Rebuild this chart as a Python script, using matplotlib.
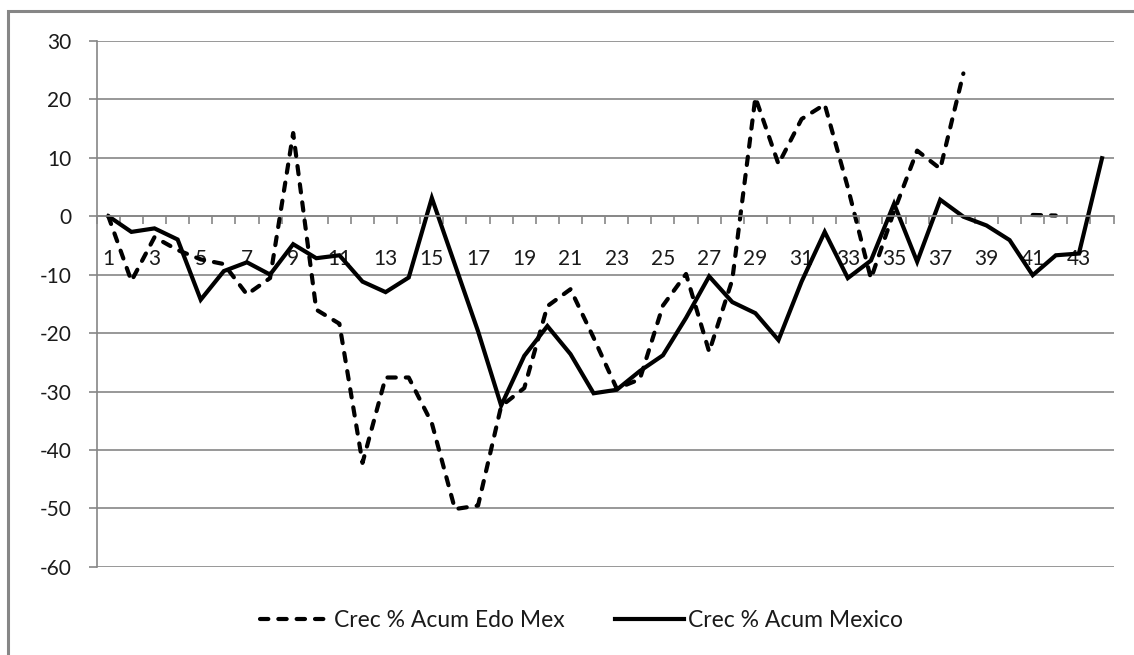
import numpy as np
import matplotlib
matplotlib.use("Agg")
import matplotlib.pyplot as plt
from matplotlib.patches import Rectangle

plt.rcParams['font.family'] = ['Lato', 'DejaVu Sans']
plt.rcParams['axes.unicode_minus'] = False

periods = list(range(1, 45))

# cumulative growth, State of Mexico (gaps where no data)
edo_mex = [0.0, -11.1, -3.6, -5.8, -7.4, -8.2, -13.4, -10.6, 14.2, -16.0,
           -18.4, -42.2, -27.6, -27.6, -35.4, -50.1, -49.5, -32.5, -29.4, -15.4,
           -12.5, -20.8, -29.5, -27.9, -15.3, -9.9, -23.2, -10.9, 20.3, 8.9,
           16.6, 19.1, 4.9, -10.7, 0.8, 11.2, 8.1, 24.4, np.nan, np.nan,
           0.2, 0.1, np.nan, np.nan]

# cumulative growth, national
mexico = [0.0, -2.7, -2.1, -4.0, -14.3, -9.4, -7.9, -10.0, -4.8, -7.2,
          -6.7, -11.2, -13.0, -10.5, 3.1, -8.3, -19.7, -32.4, -23.9, -18.8,
          -23.6, -30.3, -29.7, -26.5, -23.8, -17.4, -10.3, -14.7, -16.6, -21.2,
          -11.2, -2.7, -10.6, -7.6, 2.1, -7.8, 2.8, -0.1, -1.6, -4.1,
          -10.1, -6.7, -6.4, 9.9]

label_edo = 'Crec % Acum Edo Mex'
label_mex = 'Crec % Acum Mexico'

grid_col = '#868686'

fig = plt.figure(figsize=(11.34, 6.55), dpi=100)
ax = fig.add_axes([0.0853, 0.1344, 0.8967, 0.8035])

# chart frame
fig.patches.append(Rectangle((8 / 1134, -0.05), 1.2, (655 - 10.5) / 655 + 0.05,
                             transform=fig.transFigure, fill=False,
                             edgecolor=grid_col, linewidth=2.2))

ax.plot(periods, edo_mex, color='black', linewidth=3.0,
        linestyle=(0, (2.0, 2.4)), dash_capstyle='round', label=label_edo)
ax.plot(periods, mexico, color='black', linewidth=3.0,
        solid_joinstyle='miter', label=label_mex)

ax.set_xlim(0.5, 44.5)
ax.set_ylim(-60, 30)
ax.set_yticks(range(-60, 31, 10))
ax.yaxis.grid(True, color=grid_col, linewidth=1.2)
ax.set_axisbelow(True)

# category axis crosses at zero
ax.spines['bottom'].set_position(('data', 0))
ax.spines['bottom'].set_color(grid_col)
ax.spines['bottom'].set_linewidth(1.2)
ax.spines['left'].set_color(grid_col)
ax.spines['left'].set_linewidth(1.2)
ax.spines['top'].set_visible(False)
ax.spines['right'].set_visible(False)

ax.set_xticks(np.arange(0.5, 45, 1))
ax.set_xticklabels([])
ax.set_xticks(periods[::2], minor=True)
ax.set_xticklabels([str(p) for p in periods[::2]], minor=True)
ax.tick_params(axis='x', which='major', direction='out', length=6,
               color=grid_col, width=1.2)
ax.tick_params(axis='x', which='minor', length=0, pad=24, labelsize=15,
               labelcolor='#1a1a1a')
ax.tick_params(axis='y', direction='out', length=6, color=grid_col, width=1.2,
               pad=12, labelsize=15, labelcolor='#1a1a1a')

leg = fig.legend(loc='center', bbox_to_anchor=(0.513, 0.052), ncol=2,
                 frameon=False, fontsize=16.5, handlelength=3.0,
                 handletextpad=0.2, columnspacing=2.2)
for t in leg.get_texts():
    t.set_color('#1a1a1a')

fig.savefig('out.png', dpi=100)
